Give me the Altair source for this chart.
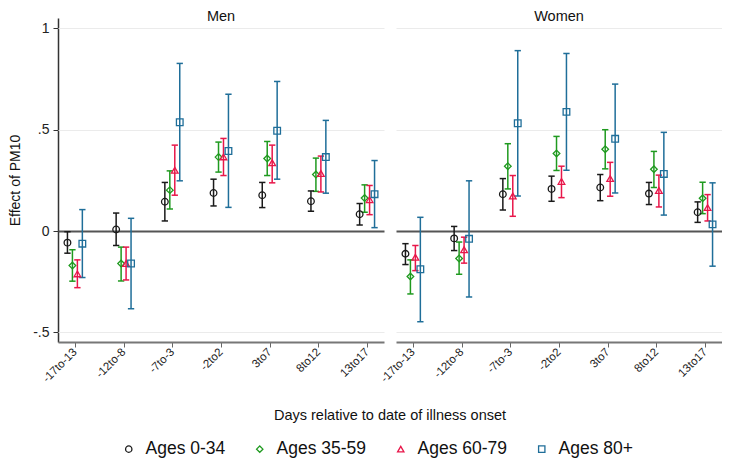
import altair as alt
import pandas as pd

cats = ["-17to-13", "-12to-8", "-7to-3", "-2to2", "3to7", "8to12", "13to17"]
series = ["Ages 0-34", "Ages 35-59", "Ages 60-79", "Ages 80+"]
colors = ["#1a1a1a", "#1f9a1f", "#e8174a", "#1f6e99"]
shapes = ["circle", "diamond", "triangle-up", "square"]
ytick_values = [-0.5, 0, 0.5, 1]
ytick_labels = ["-.5", "0", ".5", "1"]

# Men
men_est = {
    "Ages 0-34": [-0.057, 0.008, 0.145, 0.188, 0.177, 0.147, 0.083],
    "Ages 35-59": [-0.170, -0.160, 0.202, 0.365, 0.358, 0.279, 0.163],
    "Ages 60-79": [-0.211, -0.160, 0.300, 0.366, 0.337, 0.284, 0.155],
    "Ages 80+": [-0.062, -0.160, 0.537, 0.395, 0.495, 0.365, 0.182],
}
men_lo = {
    "Ages 0-34": [-0.109, -0.071, 0.050, 0.124, 0.116, 0.098, 0.030],
    "Ages 35-59": [-0.247, -0.246, 0.109, 0.291, 0.274, 0.196, 0.093],
    "Ages 60-79": [-0.279, -0.241, 0.177, 0.274, 0.238, 0.193, 0.081],
    "Ages 80+": [-0.229, -0.383, 0.248, 0.117, 0.256, 0.187, 0.017],
}
men_hi = {
    "Ages 0-34": [-0.003, 0.089, 0.240, 0.256, 0.240, 0.198, 0.136],
    "Ages 35-59": [-0.092, -0.079, 0.297, 0.439, 0.442, 0.360, 0.228],
    "Ages 60-79": [-0.142, -0.079, 0.424, 0.457, 0.424, 0.370, 0.225],
    "Ages 80+": [0.106, 0.063, 0.827, 0.675, 0.738, 0.546, 0.348],
}

# Women
women_est = {
    "Ages 0-34": [-0.112, -0.036, 0.182, 0.208, 0.215, 0.185, 0.093],
    "Ages 35-59": [-0.224, -0.135, 0.320, 0.383, 0.404, 0.305, 0.162],
    "Ages 60-79": [-0.129, -0.092, 0.173, 0.245, 0.259, 0.200, 0.116],
    "Ages 80+": [-0.188, -0.038, 0.532, 0.588, 0.455, 0.282, 0.033],
}
women_lo = {
    "Ages 0-34": [-0.165, -0.096, 0.104, 0.147, 0.150, 0.131, 0.043],
    "Ages 35-59": [-0.310, -0.213, 0.208, 0.299, 0.307, 0.215, 0.086],
    "Ages 60-79": [-0.195, -0.158, 0.073, 0.165, 0.172, 0.119, 0.050],
    "Ages 80+": [-0.447, -0.325, 0.173, 0.300, 0.188, 0.079, -0.173],
}
women_hi = {
    "Ages 0-34": [-0.062, 0.023, 0.259, 0.271, 0.279, 0.240, 0.144],
    "Ages 35-59": [-0.142, -0.054, 0.431, 0.467, 0.500, 0.393, 0.241],
    "Ages 60-79": [-0.071, -0.030, 0.274, 0.320, 0.339, 0.276, 0.180],
    "Ages 80+": [0.068, 0.248, 0.890, 0.876, 0.725, 0.487, 0.238],
}

rows = []
for panel, est, lo, hi in [("Men", men_est, men_lo, men_hi),
                           ("Women", women_est, women_lo, women_hi)]:
    for si, s in enumerate(series):
        for ci, c in enumerate(cats):
            rows.append(dict(panel=panel, series=s, si=si, ci=ci,
                             est=est[s][ci], lo=lo[s][ci], hi=hi[s][ci]))
df = pd.DataFrame(rows)

FONT = "Liberation Sans"
label_expr = "[" + ",".join(f"'{c}'" for c in cats) + "][datum.value]"
ylab_expr = " : ".join(
    [f"datum.value == {v} ? '{l}'" for v, l in zip(ytick_values, ytick_labels)] + ["datum.label"])

xscale = alt.Scale(domain=[-0.347, 6.347], nice=False, zero=False)
xaxis = alt.Axis(values=list(range(len(cats))), labelExpr=label_expr,
                 labelAngle=-45, labelAlign="right", labelBaseline="middle",
                 labelFontSize=11.5, labelColor="#222", labelPadding=3,
                 grid=False, tickSize=5, tickColor="#666", domainColor="#777",
                 domainWidth=2, title=None)
yscale = alt.Scale(domain=[-0.547, 1.051], nice=False, zero=False)
yaxis = alt.Axis(values=ytick_values, labelExpr=ylab_expr,
                 labelFontSize=14, labelColor="#222", labelPadding=4,
                 tickSize=5, tickColor="#333", domainColor="#333", domainWidth=1.5,
                 gridColor={"condition": {"test": "datum.value === 0", "value": "#555555"}, "value": "#ebebeb"},
                 gridWidth={"condition": {"test": "datum.value === 0", "value": 2}, "value": 1},
                 title="Effect of PM10", titleFontSize=14, titleFontWeight="normal",
                 titleColor="#111", titlePadding=10)


def xenc():
    return alt.X("xpos:Q", scale=xscale, axis=xaxis)


def yenc(field):
    return alt.Y(f"{field}:Q", scale=yscale, axis=yaxis)


legend = alt.Legend(title=None, orient="none", direction="horizontal",
                    legendX=62, legendY=422,
                    labelFontSize=17.5, labelColor="#111", symbolSize=40,
                    symbolStrokeWidth=1.3, columnPadding=25, labelOffset=8)
color_scale = alt.Scale(domain=series, range=colors)
shape_scale = alt.Scale(domain=series, range=shapes)

base = alt.Chart().transform_calculate(xpos="datum.ci + (datum.si - 1.5) * 0.102")

rules = base.mark_rule(strokeWidth=1.5).encode(
    x=xenc(), y=yenc("lo"), y2="hi:Q",
    color=alt.Color("series:N", scale=color_scale, legend=legend))
cap_lo = base.mark_point(shape="M-1,0L1,0", size=40, strokeWidth=1.5, filled=False, opacity=1).encode(
    x=xenc(), y=yenc("lo"), color=alt.Color("series:N", scale=color_scale, legend=legend))
cap_hi = base.mark_point(shape="M-1,0L1,0", size=40, strokeWidth=1.5, filled=False, opacity=1).encode(
    x=xenc(), y=yenc("hi"), color=alt.Color("series:N", scale=color_scale, legend=legend))
points = base.mark_point(size=44, strokeWidth=1.3, filled=False, opacity=1).encode(
    x=xenc(), y=yenc("est"),
    color=alt.Color("series:N", scale=color_scale, legend=legend),
    shape=alt.Shape("series:N", scale=shape_scale, legend=legend))

layered = alt.layer(rules, cap_lo, cap_hi, points, data=df).properties(width=326, height=324)

chart = layered.facet(
    column=alt.Column("panel:N", sort=["Men", "Women"],
                      header=alt.Header(title="Days relative to date of illness onset",
                                        titleOrient="bottom", titleFontSize=14.5,
                                        titleFontWeight="normal", titleColor="#111",
                                        titleFont=FONT, titlePadding=14,
                                        labelOrient="top", labelFontSize=14.5,
                                        labelColor="#111", labelFont=FONT,
                                        labelPadding=-6)),
    spacing=12,
).properties(
    padding={"left": 0, "top": 0, "right": 0, "bottom": 0}
).configure(font=FONT).configure_view(stroke=None)

chart.save("out.html", embed_options={"renderer": "svg", "actions": False})
